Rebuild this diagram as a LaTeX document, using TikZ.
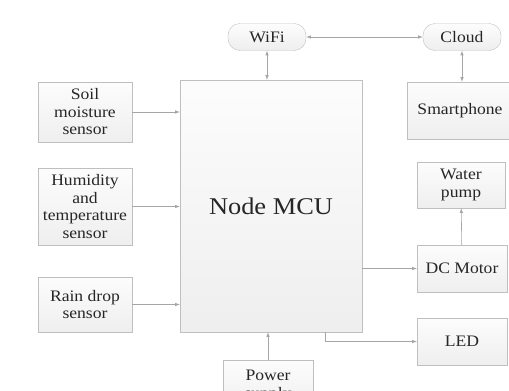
\documentclass[tikz,border=0pt]{standalone}
\usepackage{fontspec}
\setmainfont[FakeStretch=1.1]{Liberation Serif}
\usetikzlibrary{arrows}

\begin{document}
\begin{tikzpicture}[x=1pt,y=-1pt,
		blk/.style={draw=gray!50,top color=gray!2,bottom color=gray!13,text=black!85,align=center,
			inner sep=1pt,font=\fontsize{16}{17.5}\selectfont},
		pill/.style={blk,rounded corners=12pt},
		link/.style={draw=gray!70,line width=0.6pt,>=latex}]
			\useasboundingbox (0,0) rectangle (509,391);

			\node[pill,minimum width=78pt,minimum height=27pt] (wifi) at (267,37) {WiFi};
			\node[pill,minimum width=78pt,minimum height=27pt] (cloud) at (462,37) {Cloud};

			\node[blk,minimum width=182pt,minimum height=252pt,font=\fontsize{24}{26}\selectfont] (mcu) at (271,206) {Node MCU};

			\node[blk,minimum width=94pt,minimum height=60pt] (soil) at (85,112) {Soil\\moisture\\sensor};
			\node[blk,minimum width=94pt,minimum height=77pt] (hum) at (85,206.5) {Humidity\\and\\temperature\\sensor};
			\node[blk,minimum width=94pt,minimum height=55pt] (rain) at (85,304.5) {Rain drop\\sensor};

			\node[blk,minimum width=106pt,minimum height=57pt] (phone) at (460,110.5) {Smartphone};
			\node[blk,minimum width=88pt,minimum height=46pt] (pump) at (461,185) {Water\\pump};
			\node[blk,minimum width=90pt,minimum height=47pt] (motor) at (462,268.5) {DC Motor};
			\node[blk,minimum width=90pt,minimum height=47pt] (led) at (462,341.5) {LED};

			\node[blk,minimum width=90pt,minimum height=52pt,anchor=north] (power) at (268,360) {Power\\supply};

			% links between blocks
			\draw[link,<->] (wifi) -- (cloud);
			\draw[link,<->] (wifi) -- (wifi |- mcu.north);
			\draw[link,<->] (cloud.south) -- (cloud.south |- phone.north);

			\draw[link,->] (soil) -- (soil -| mcu.west);
			\draw[link,->] (hum) -- (hum -| mcu.west);
			\draw[link,->] (rain) -- (rain -| mcu.west);

			\draw[link,->] (motor -| mcu.east) -- (motor);
			\draw[link,->] (motor) -- (pump);
			\draw[link,->] ([xshift=54pt]mcu.south) |- (led);

			\draw[link,->] (power) -- (power |- mcu.south);
		\end{tikzpicture}
\end{document}
